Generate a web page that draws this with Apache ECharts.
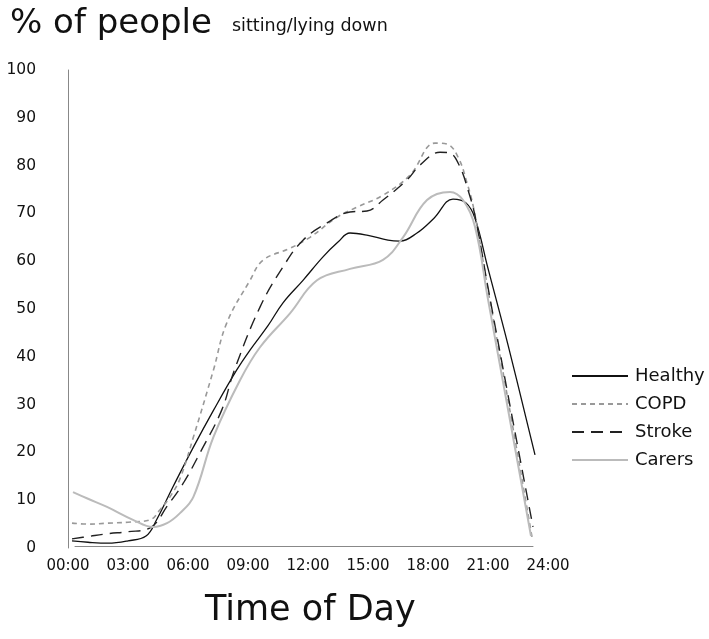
<!DOCTYPE html>
<html>
<head>
<meta charset="utf-8">
<script src="https://cdn.jsdelivr.net/npm/echarts@6/dist/echarts.min.js"></script>
<style>html,body{margin:0;padding:0;background:#fff}#c{width:709px;height:639px}</style>
</head>
<body>
<div id="c"></div>
<script>
// tick labels
const yTicks = [0,10,20,30,40,50,60,70,80,90,100];
const xTickHours = [0,3,6,9,12,15,18,21,24];

// series: hour of day and % of people
const healthyHours = [0.2,1,2,3,3.9,4.43,5.25,6.27,7.3,8.43,9.1,10,10.75,11.75,12.75,13.5,14.1,15,16,16.6,17.45,18.3,19.25,19.9,20.35,21,22,23.35];
const healthyValues = [1.5,1.2,1.0,1.5,2.5,5.9,12.8,21.1,29,37.2,41.4,46.5,51.3,56,60.9,64,65.9,65.4,64.4,64.2,65.9,69,73,72.2,69,58.5,42.5,19.5];

const copdHours = [0.2,1,2,3,4.1,4.6,5.1,5.6,6.27,7.27,7.93,9.1,9.75,11.1,12.1,13.45,14.45,15.75,17.1,18.35,18.95,19.5,19.95,20.3,21,22,23.2];
const copdValues = [5.2,5.0,5.2,5.4,5.9,8,10.7,14.5,23.2,37.2,47,56,60.2,62.7,65,69.2,71.3,73.8,78,84.7,84.5,81.8,76.4,70.7,54,31,2.3];

const strokeHours = [0.2,1,2,3,4.1,5,5.77,6.6,7.7,8.3,9.6,10.75,11.75,12.95,14.1,14.95,15.75,16.95,17.6,18.6,19.1,19.6,20.0,20.35,21,22,23.25];
const strokeValues = [1.9,2.4,3.0,3.4,4.2,9,13.6,19.9,29,37,50.4,58.8,64.4,68,70.3,70.5,72.8,77,80.1,82.8,82.6,79.7,74.9,69.5,54.5,32,4.4];

const carersHours = [0.25,1,1.95,3.25,4.25,4.95,5.6,6.27,7.27,8.6,9.6,11.1,12.45,14.1,15.75,16.75,17.95,19.1,19.75,20.35,21,22,23.15];
const carersValues = [11.7,10.3,8.6,5.9,4.4,5.2,7.3,10.7,23.2,35.1,42,49.1,56,58.4,60.3,65,72.8,74.5,72.8,67.2,52,29,2.5];

const pairs = (h, v) => h.map((x, i) => [x, v[i]]);
const FONT = 'DejaVu Sans';

const chart = echarts.init(document.getElementById('c'));
chart.setOption({
  animation: false,
  backgroundColor: '#fff',
  graphic: [
    {type:'text', left: 10, top: 7, style:{text:'% of people', font:'normal 34px "' + FONT + '"', fill:'#111'}},
    {type:'text', left: 232, top: 17, style:{text:'sitting/lying down', font:'normal 17.5px "' + FONT + '"', fill:'#111'}},
    {type:'text', left: 205, top: 593, style:{text:'Time of Day', font:'normal 35px "' + FONT + '"', fill:'#111'}}
  ],
  legend: {
    orient: 'vertical',
    left: 566,
    top: 362,
    itemWidth: 56,
    itemHeight: 14,
    itemGap: 10,
    itemStyle: {opacity: 0},
    textStyle: {fontFamily: FONT, fontSize: 18, color: '#111', padding: [0,0,0,2]},
    data: ['Healthy','COPD','Stroke','Carers']
  },
  grid: [
    {left: 68, right: 161, top: 70, bottom: 91},
    {left: 75, right: 176, top: 70, bottom: 93}
  ],
  xAxis: [
    {type:'value', gridIndex:0, min:0, max:24, interval:3,
     axisLine:{show:false}, axisTick:{show:false}, splitLine:{show:false},
     axisLabel:{margin:11, fontFamily:FONT, fontSize:15, color:'#111',
       formatter: v => xTickHours.indexOf(v) >= 0 ? String(v).padStart(2,'0') + ':00' : ''}},
    {type:'value', gridIndex:1, min:0, max:24,
     axisLine:{show:true, lineStyle:{color:'#888', width:1}}, axisTick:{show:false},
     axisLabel:{show:false}, splitLine:{show:false}}
  ],
  yAxis: [
    {type:'value', gridIndex:0, min:0, max:100, interval:10, offset:25,
     axisLine:{show:true, lineStyle:{color:'#888', width:1}}, axisTick:{show:false}, splitLine:{show:false},
     axisLabel:{margin:7, fontFamily:FONT, fontSize:15.5, color:'#111',
       formatter: v => yTicks.indexOf(v) >= 0 ? String(v) : ''}},
    {type:'value', gridIndex:1, min:0, max:100, show:false}
  ],
  series: [
    {name:'Healthy', type:'line', xAxisIndex:0, yAxisIndex:0, data: pairs(healthyHours, healthyValues),
     smooth:0.4, symbol:'none', lineStyle:{color:'#111', width:1.3, type:'solid'}, itemStyle:{color:'#111'}},
    {name:'COPD', type:'line', xAxisIndex:0, yAxisIndex:0, data: pairs(copdHours, copdValues),
     smooth:0.4, symbol:'none', lineStyle:{color:'#999', width:1.6, type:[5,4]}, itemStyle:{color:'#999'}},
    {name:'Stroke', type:'line', xAxisIndex:0, yAxisIndex:0, data: pairs(strokeHours, strokeValues),
     smooth:0.4, symbol:'none', lineStyle:{color:'#222', width:1.4, type:[12,7]}, itemStyle:{color:'#222'}},
    {name:'Carers', type:'line', xAxisIndex:0, yAxisIndex:0, data: pairs(carersHours, carersValues),
     smooth:0.4, symbol:'none', lineStyle:{color:'#bbb', width:2, type:'solid'}, itemStyle:{color:'#bbb'}}
  ]
});
</script>
</body>
</html>
